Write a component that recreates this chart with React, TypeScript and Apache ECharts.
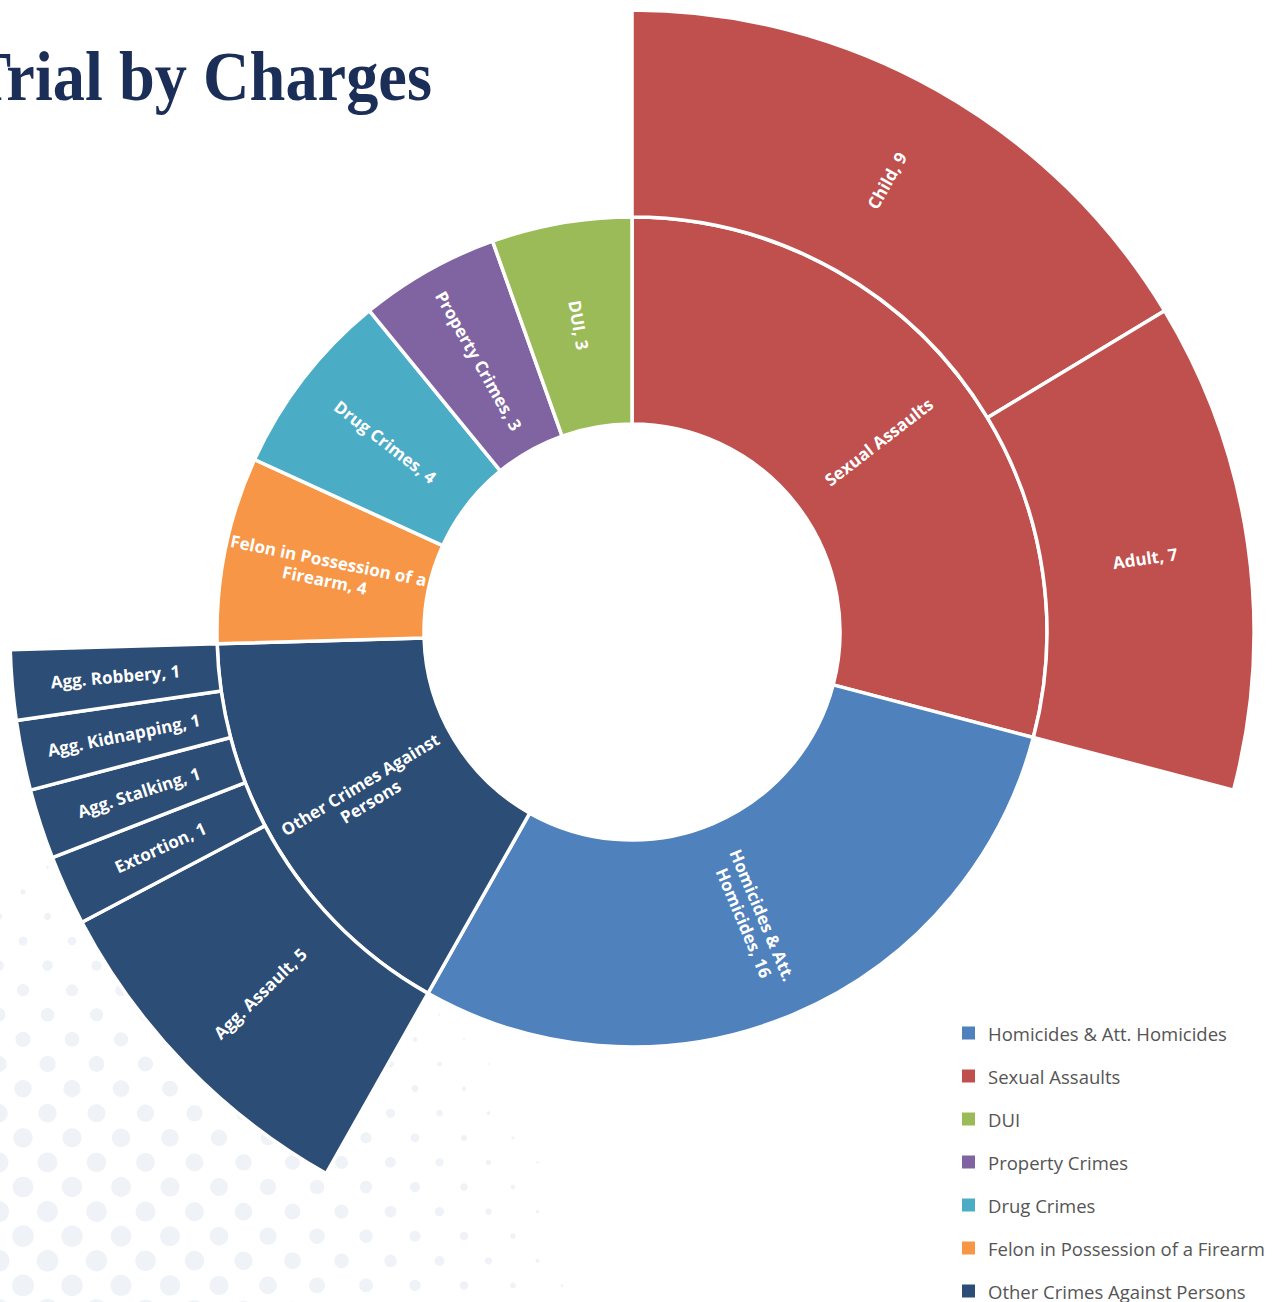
import React, { useEffect, useRef } from "react";
import * as echarts from "echarts";

// ---- Data ----
const categories = [
  "Sexual Assaults",
  "Homicides & Att. Homicides",
  "Other Crimes Against Persons",
  "Felon in Possession of a Firearm",
  "Drug Crimes",
  "Property Crimes",
  "DUI",
];
const categoryValues = [16, 16, 9, 4, 4, 3, 3];

const sexualAssaultTypes = ["Child", "Adult"];
const sexualAssaultValues = [9, 7];

const otherCrimeTypes = ["Agg. Assault", "Extortion", "Agg. Stalking", "Agg. Kidnapping", "Agg. Robbery"];
const otherCrimeValues = [5, 1, 1, 1, 1];

const legendOrder = [
  "Homicides & Att. Homicides",
  "Sexual Assaults",
  "DUI",
  "Property Crimes",
  "Drug Crimes",
  "Felon in Possession of a Firearm",
  "Other Crimes Against Persons",
];

const titleText = "Trial by Charges";

// ---- Styles ----
const colorMap: Record<string, string> = {
  "Homicides & Att. Homicides": "#4F81BD",
  "Sexual Assaults": "#C0504D",
  DUI: "#9BBB59",
  "Property Crimes": "#8064A2",
  "Drug Crimes": "#4BACC6",
  "Felon in Possession of a Firearm": "#F79646",
  "Other Crimes Against Persons": "#2C4D75",
};

const lineBreakAfter: Record<string, string> = {
  "Homicides & Att. Homicides": "Att.",
  "Felon in Possession of a Firearm": "of a",
  "Other Crimes Against Persons": "Against",
};

const childrenMap: Record<string, { names: string[]; values: number[] }> = {
  "Sexual Assaults": { names: sexualAssaultTypes, values: sexualAssaultValues },
  "Other Crimes Against Persons": { names: otherCrimeTypes, values: otherCrimeValues },
};

function buildData() {
  return categories.map((name, i) => {
    const color = colorMap[name];
    const kids = childrenMap[name];
    const node: any = { name, itemStyle: { color } };
    if (kids) {
      node.children = kids.names.map((n, j) => ({
        name: n,
        value: kids.values[j],
        itemStyle: { color },
      }));
    } else {
      node.value = categoryValues[i];
    }
    return node;
  });
}

// decorative halftone dot pattern (bottom-left background)
function buildDots() {
  const els: any[] = [];
  const rowGap = 24.6;
  const colGap = 49;
  let row = 0;
  for (let y = 1310; y > 800; y -= rowGap, row++) {
    const h = 1302 - y;
    const startX = row % 2 === 0 ? -1.5 : 23;
    for (let x = startX; x < 620; x += colGap) {
      const t = Math.pow(Math.max(x, 0) / 600, 2) + Math.pow(Math.max(h, 0) / 470, 2);
      const d = 22 * (1 - t);
      if (d < 1.5) continue;
      els.push({
        type: "circle",
        silent: true,
        z: -10,
        shape: { cx: x, cy: y, r: d / 2 },
        style: { fill: "#EFF2F7" },
      });
    }
  }
  return els;
}

function buildLegend() {
  const els: any[] = [];
  legendOrder.forEach((name, i) => {
    const cy = 1033 + i * 43;
    els.push({
      type: "rect",
      silent: true,
      shape: { x: 962, y: cy - 6.5, width: 13, height: 13 },
      style: { fill: colorMap[name] },
    });
    els.push({
      type: "text",
      silent: true,
      x: 988,
      y: cy,
      style: {
        text: name,
        fill: "#555555",
        font: "18.5px 'Open Sans'",
        verticalAlign: "middle",
        align: "left",
      },
    });
  });
  return els;
}

export default function App() {
  const ref = useRef<HTMLDivElement>(null);

  useEffect(() => {
    if (!ref.current) return;
    const chart = echarts.init(ref.current, null, { renderer: "svg" });
    chart.setOption({
      animation: false,
      backgroundColor: "#ffffff",
      graphic: [
        ...buildDots(),
        {
          type: "text",
          silent: true,
          x: 432,
          y: 77,
          scaleX: 0.92,
          style: {
            text: titleText,
            fill: "#1A2E57",
            font: "bold 70px 'Liberation Serif'",
            align: "right",
            verticalAlign: "middle",
          },
        },
        ...buildLegend(),
      ],
      series: [
        {
          type: "sunburst",
          center: [632, 632],
          radius: [208, 622],
          sort: null,
          startAngle: 90,
          clockwise: true,
          nodeClick: false,
          data: buildData(),
          itemStyle: { borderColor: "#ffffff", borderWidth: 3.5 },
          label: {
            show: true,
            rotate: "radial",
            color: "#ffffff",
            fontFamily: "Open Sans",
            fontWeight: "bold",
            fontSize: 17,
            lineHeight: 20,
            formatter: (p: any) => {
              const hasKids = p.data && p.data.children && p.data.children.length;
              let text = hasKids ? p.name : `${p.name}, ${p.value}`;
              const brk = lineBreakAfter[p.name];
              if (brk) text = text.replace(brk + " ", brk + "\n");
              return text;
            },
          },
          emphasis: { disabled: true },
          levels: [
            {},
            { r0: 208, r: 415 },
            { r0: 415, r: 622 },
          ],
        },
      ],
    });
    return () => chart.dispose();
  }, []);

  return (
    <div
      ref={ref}
      style={{ position: "absolute", left: 0, top: 0, width: 1282, height: 1302 }}
    />
  );
}
